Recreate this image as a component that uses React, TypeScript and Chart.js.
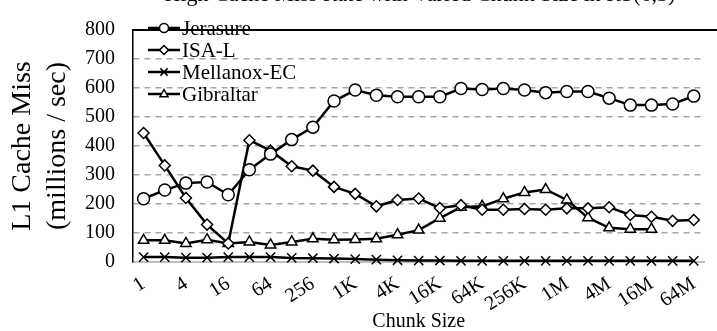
import React, { useEffect, useRef } from 'react';
import { Chart, registerables } from 'chart.js';

Chart.register(...registerables);

const categories = ['1', '2', '4', '8', '16', '32', '64', '128', '256', '512', '1K', '2K', '4K', '8K', '16K', '32K', '64K', '128K', '256K', '512K', '1M', '2M', '4M', '8M', '16M', '32M', '64M'];
const jerasure = [218, 248, 272, 276, 232, 318, 372, 422, 465, 555, 593, 575, 570, 570, 570, 598, 595, 598, 593, 584, 588, 588, 565, 541, 541, 545, 572];
const isal = [445, 333, 221, 129, 64, 420, 384, 330, 315, 259, 235, 192, 214, 219, 186, 196, 180, 180, 183, 180, 185, 185, 189, 162, 156, 142, 145];
const mellanox = [17, 17, 15, 15, 17, 17, 17, 14, 13, 12, 10, 8, 6, 5, 5, 4, 4, 4, 4, 4, 4, 4, 4, 4, 4, 4, 4];
const gibraltar = [75, 75, 64, 77, 64, 69, 59, 69, 80, 77, 78, 80, 94, 110, 151, 189, 192, 218, 240, 250, 214, 153, 118, 113, 113, null, null];
const seriesNames = ['Jerasure', 'ISA-L', 'Mellanox-EC', 'Gibraltar'];
const pointStyles = ['circle', 'rectRot', 'crossRot', 'triangle'];
const yMin = 0;
const yMax = 800;
const yStep = 100;
const titleText = 'High Cache Miss Rate with Varied Chunk Size in RS(6,3)';
const yTitle = ['L1 Cache Miss', '(millions / sec)'];
const xTitle = 'Chunk Size';

const FONT = "'Liberation Serif', 'Times New Roman', serif";

function drawMarker(ctx: CanvasRenderingContext2D, style: string, x: number, y: number, r: number) {
  ctx.save();
  ctx.lineWidth = 1.5;
  ctx.strokeStyle = '#000';
  ctx.fillStyle = '#fff';
  ctx.setLineDash([]);
  ctx.beginPath();
  if (style === 'circle') {
    ctx.arc(x, y, r, 0, Math.PI * 2);
    ctx.fill();
    ctx.stroke();
  } else if (style === 'rectRot') {
    ctx.moveTo(x, y - r);
    ctx.lineTo(x + r, y);
    ctx.lineTo(x, y + r);
    ctx.lineTo(x - r, y);
    ctx.closePath();
    ctx.fill();
    ctx.stroke();
  } else if (style === 'crossRot') {
    const d = r * 0.8;
    ctx.moveTo(x - d, y - d);
    ctx.lineTo(x + d, y + d);
    ctx.moveTo(x + d, y - d);
    ctx.lineTo(x - d, y + d);
    ctx.stroke();
  } else {
    ctx.moveTo(x, y - r);
    ctx.lineTo(x + r * 0.9, y + r * 0.6);
    ctx.lineTo(x - r * 0.9, y + r * 0.6);
    ctx.closePath();
    ctx.fill();
    ctx.stroke();
  }
  ctx.restore();
}

const framePlugin = {
  id: 'framePlugin',
  afterDraw(chart: any) {
    const { ctx, chartArea } = chart;
    ctx.save();
    // top border
    ctx.strokeStyle = '#000';
    ctx.lineWidth = 2;
    ctx.beginPath();
    ctx.moveTo(chartArea.left, chartArea.top);
    ctx.lineTo(chart.width, chartArea.top);
    ctx.stroke();
    // title (cut off at top)
    ctx.fillStyle = '#000';
    ctx.font = `22px ${FONT}`;
    ctx.textAlign = 'center';
    ctx.textBaseline = 'alphabetic';
    ctx.fillText(titleText, 420, 1);
    // legend
    ctx.font = `21px ${FONT}`;
    ctx.textAlign = 'left';
    ctx.textBaseline = 'middle';
    seriesNames.forEach((name, i) => {
      const y = 28 + i * 22;
      ctx.strokeStyle = '#000';
      ctx.lineWidth = 2.5;
      ctx.beginPath();
      ctx.moveTo(148, y);
      ctx.lineTo(180, y);
      ctx.stroke();
      drawMarker(ctx, pointStyles[i], 164, y, 4.5);
      ctx.fillStyle = '#000';
      ctx.fillText(name, 182, y + 1);
    });
    ctx.restore();
  },
};

export default function App() {
  const canvasRef = useRef<HTMLCanvasElement | null>(null);

  useEffect(() => {
    if (!canvasRef.current) return;
    const seriesData = [jerasure, isal, mellanox, gibraltar];
    const radii = [6, 5.5, 6.5, 6];
    const chart = new Chart(canvasRef.current, {
      type: 'line',
      data: {
        labels: categories,
        datasets: seriesData.map((d, i) => ({
          label: seriesNames[i],
          data: d,
          borderColor: '#000',
          borderWidth: 2.5,
          backgroundColor: '#fff',
          pointStyle: pointStyles[i] as any,
          pointRadius: radii[i],
          pointBorderWidth: 1.5,
          pointBorderColor: '#000',
          pointBackgroundColor: '#fff',
          tension: 0,
          fill: false,
          clip: false as any,
          spanGaps: false,
        })),
      },
      options: {
        responsive: false,
        animation: false,
        devicePixelRatio: 1,
        layout: { padding: { top: 17, right: 1, left: 0, bottom: 0 } },
        plugins: {
          legend: { display: false },
          tooltip: { enabled: false },
          title: { display: false },
        },
        scales: {
          x: {
            type: 'category',
            offset: true,
            grid: { display: false, drawTicks: false },
            border: { display: true, color: '#bfbfbf', width: 2 },
            ticks: {
              autoSkip: false,
              maxRotation: 33,
              minRotation: 33,
              padding: 10,
              color: '#000',
              font: { family: FONT, size: 20 },
              callback: (_v: any, i: number) => (i % 2 === 0 ? categories[i] : ''),
            },
            title: {
              display: true,
              text: xTitle,
              color: '#000',
              font: { family: FONT, size: 20, lineHeight: 0.9 },
              padding: { top: 0, bottom: 0 },
            },
            afterFit: (scale: any) => {
              scale.height = 69;
            },
          },
          y: {
            min: yMin,
            max: yMax,
            grid: {
              drawTicks: false,
              lineWidth: 1.5,
              color: (c: any) =>
                c.tick && (c.tick.value === yMin || c.tick.value === yMax) ? 'rgba(0,0,0,0)' : '#a6a6a6',
            },
            border: { display: true, color: '#000', width: 1.5, dash: [6, 5] },
            ticks: {
              stepSize: yStep,
              padding: 18,
              color: '#000',
              font: { family: FONT, size: 20 },
            },
            title: {
              display: true,
              text: yTitle,
              color: '#000',
              font: { family: FONT, size: 28, lineHeight: 1.22 },
              padding: { top: 6, bottom: 0 },
            },
            afterFit: (scale: any) => {
              scale.width = 133;
            },
          },
        },
      } as any,
      plugins: [framePlugin],
    });
    return () => chart.destroy();
  }, []);

  return (
    <div style={{ position: 'absolute', left: 0, top: 0, width: 717, height: 331, background: '#fff' }}>
      <canvas ref={canvasRef} width={717} height={331} style={{ display: 'block' }} />
    </div>
  );
}
